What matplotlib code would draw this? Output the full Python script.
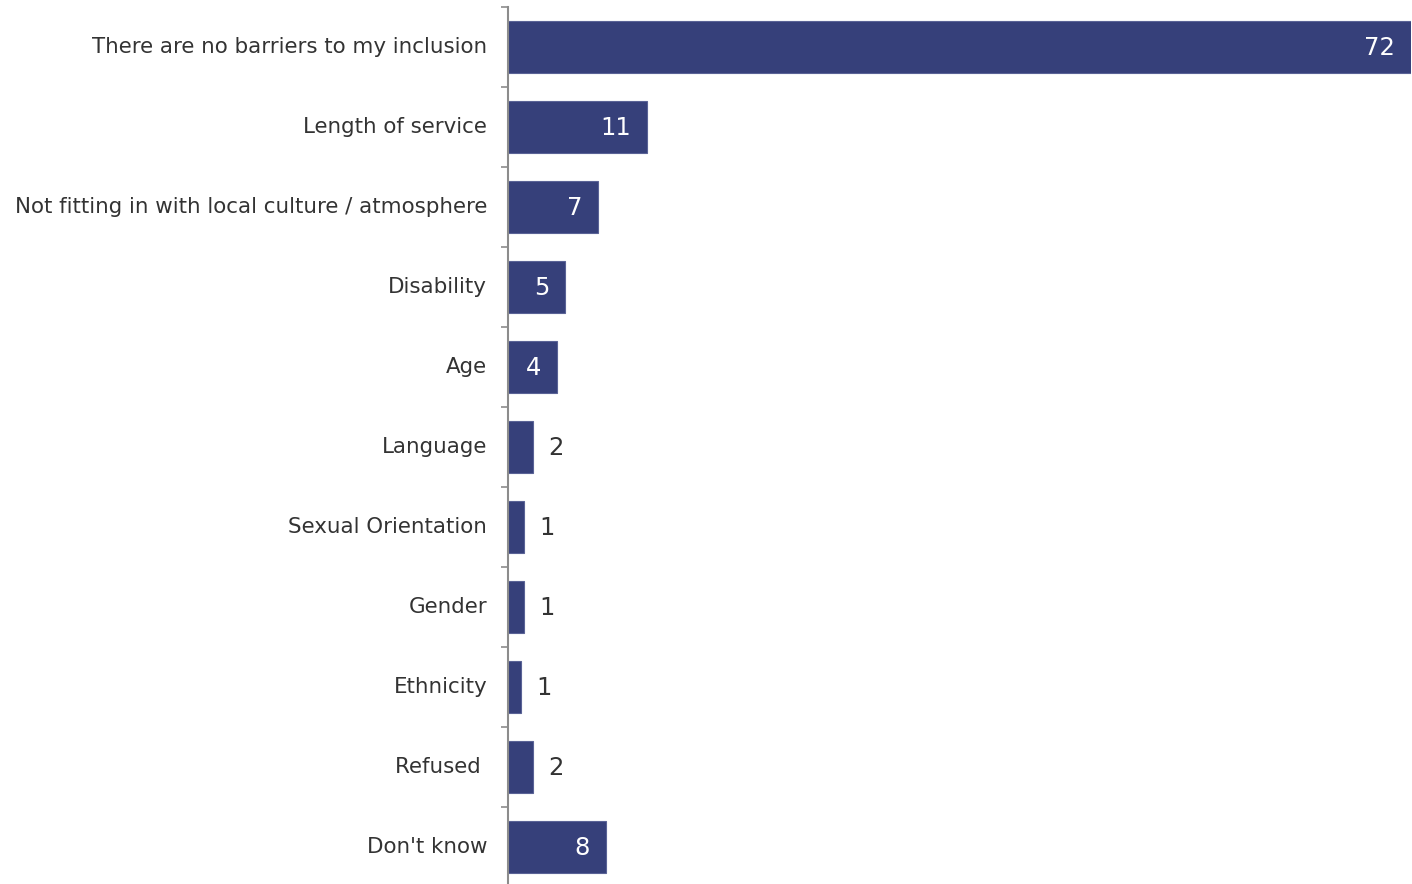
import matplotlib.pyplot as plt

categories = [
    "There are no barriers to my inclusion",
    "Length of service",
    "Not fitting in with local culture / atmosphere",
    "Disability",
    "Age",
    "Language",
    "Sexual Orientation",
    "Gender",
    "Ethnicity",
    "Refused ",
    "Don't know",
]
# bar lengths; labels are the rounded figures shown
values = [72, 11.1, 7.2, 4.55, 3.9, 2.0, 1.3, 1.3, 1.05, 2.0, 7.8]
labels = ["72", "11", "7", "5", "4", "2", "1", "1", "1", "2", "8"]

bar_color = "#36407a"
text_color = "#333333"

fig = plt.figure(figsize=(14.12, 8.84), dpi=100)
ax = fig.add_axes([508 / 1412, -3 / 884, 903 / 1412, 880 / 884])

y = list(range(len(categories)))
ax.barh(y, values, height=0.66, color=bar_color, edgecolor="#5a6396", linewidth=0.8)
ax.set_ylim(len(categories) - 0.5, -0.5)
ax.set_xlim(0, 72)

for yi, v, lab in zip(y, values, labels):
    if v >= 3:
        ax.annotate(lab, (v, yi), xytext=(-11.5, -1), textcoords="offset points",
                    ha="right", va="center", color="white", fontsize=17.5)
    else:
        ax.annotate(lab, (v, yi), xytext=(11, -1), textcoords="offset points",
                    ha="left", va="center", color=text_color, fontsize=17.5)

for yi, cat in zip(y, categories):
    ax.annotate(cat, (0, yi), xytext=(-15, 0), textcoords="offset points",
                ha="right", va="center", color=text_color, fontsize=15.4,
                annotation_clip=False)

ax.set_yticks([i - 0.5 for i in range(len(categories) + 1)])
ax.set_yticklabels([])
ax.tick_params(axis="y", length=5, width=1.2, color="#8c8c8c")
ax.set_xticks([])
for side in ["top", "right", "bottom"]:
    ax.spines[side].set_visible(False)
ax.spines["left"].set_color("#8c8c8c")
ax.spines["left"].set_linewidth(1.5)

fig.savefig("out.png", dpi=100)
